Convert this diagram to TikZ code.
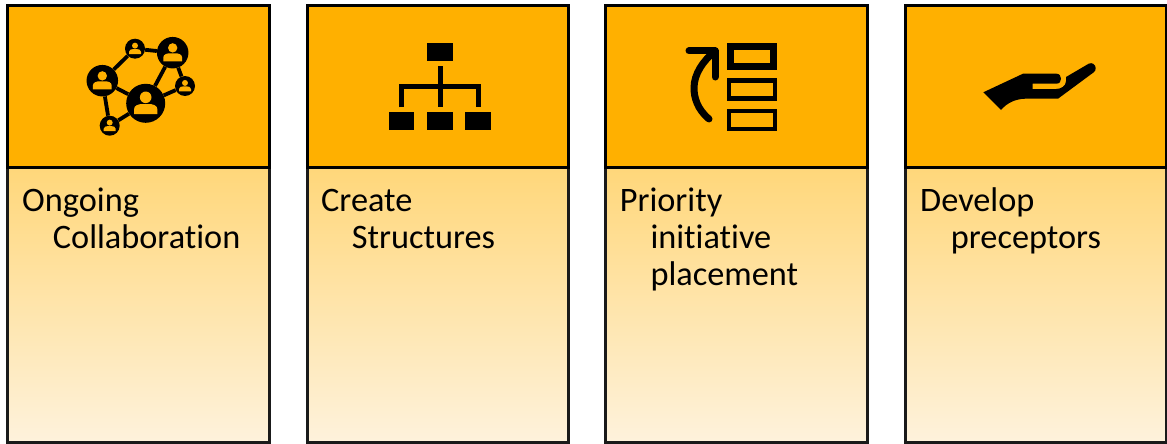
\documentclass[tikz,border=0pt]{standalone}
\usepackage{fontspec}
\setmainfont[Ligatures=NoCommon]{Carlito}
\definecolor{hdr}{HTML}{FFB000}
\definecolor{gradtop}{HTML}{FFD77A}
\definecolor{gradbot}{HTML}{FEF2DC}
\definecolor{bodyline}{HTML}{1A1A1A}
\tikzset{
  headbox/.style={draw=black,line width=3pt,fill=hdr},
  bodybox/.style={draw=bodyline,line width=3pt,top color=gradtop,bottom color=gradbot},
  label text/.style={anchor=north west,inner sep=0pt,align=left,text=black,font=\fontsize{34.3}{37.2}\selectfont},
  hub/.style={circle,fill=black,inner sep=0pt,minimum size=#1},
  link/.style={draw=black,line width=3.8pt},
  orgbox/.style={fill=black},
  orgline/.style={draw=black,line width=5pt},
  outline rect/.style={draw=black,fill=none}
}
\newcommand{\personicon}[3]{%
  \begin{scope}[shift={(#1,#2)},x=#3 pt/19.5,y=-#3 pt/19.5]
    \fill[hdr] (0,-6) circle[radius=5.8*#3 pt/19.5];
    \fill[hdr] (-11.7,10.7) -- (-11.7,6) .. controls (-11.7,2) and (-7,0.7) .. (-3,0.7) -- (3,0.7) .. controls (7,0.7) and (11.7,2) .. (11.7,6) -- (11.7,10.7) -- cycle;
  \end{scope}}
\newcommand{\firstline}{\rule{0pt}{28pt}}
\begin{document}
\begin{tikzpicture}[x=1pt,y=-1pt]
\useasboundingbox (0,0) rectangle (1167,444);
% columns
\foreach \l/\r/\n in {7/269.7/a,307/568.7/b,605/867.5/c,905/1166/d}{
  \path[bodybox] (\l,167.5) rectangle (\r,442.5);
  \path[headbox] (\l,5.5) rectangle (\r,167.5);
}
% labels
\node[label text] (la) at (22,183) {\firstline Ongoing\\\hspace*{30.7pt}Collaboration};
\node[label text] (lb) at (321,183) {\firstline Create\\\hspace*{30.7pt}Structures};
\node[label text] (lc) at (619.6,183) {\firstline Priority\\\hspace*{30.7pt}initiative\\\hspace*{30.7pt}placement};
\node[label text] (ld) at (920,183) {\firstline Develop\\\hspace*{30.7pt}preceptors};
% network icon
\node[hub=39pt] (n1) at (145.7,103.3) {};
\node[hub=31.5pt] (n2) at (172.7,52.7) {};
\node[hub=31.5pt] (n3) at (102.3,80.7) {};
\node[hub=20pt] (n4) at (135,48.7) {};
\node[hub=20pt] (n5) at (185,86) {};
\node[hub=20pt] (n6) at (109.7,125.7) {};
\draw[link] (n3) -- (n4);
\draw[link] (n4) -- (n2);
\draw[link] (n3) -- (n1);
\draw[link] (n3) -- (n6);
\draw[link] (n6) -- (n1);
\draw[link] (n1) -- (n2);
\draw[link] (n2) -- (n5);
\draw[link] (n1) -- (n5);
\personicon{145.7}{103.3}{19.5}
\personicon{172.7}{52.7}{15.7}
\personicon{102.3}{80.7}{15.7}
\personicon{135}{48.7}{10}
\personicon{185}{86}{10}
\personicon{109.7}{125.7}{10}
% org chart icon
\node[orgbox,inner sep=0pt,minimum width=25.4pt,minimum height=18pt] (o0) at (440,52.3) {};
\node[orgbox,inner sep=0pt,minimum width=25.6pt,minimum height=18pt] (o1) at (401.5,121.3) {};
\node[orgbox,inner sep=0pt,minimum width=25.4pt,minimum height=18pt] (o2) at (440,121.3) {};
\node[orgbox,inner sep=0pt,minimum width=25.6pt,minimum height=18pt] (o3) at (478.2,121.3) {};
\coordinate (oa) at (440,66.3);
\coordinate (ob) at (440,107.3);
\coordinate (oc) at (401.7,107.3);
\coordinate (od) at (478.3,107.3);
\draw[orgline] (oa) -- (ob);
\draw[orgline] (oc) -- (oc |- 0,86.7) -- (od |- 0,86.7) -- (od);
% priority icon
\draw[outline rect,line width=7pt] (730.2,46.2) rectangle (773.8,66.5);
\draw[outline rect,line width=4.5pt] (729,80.6) rectangle (775,98.4);
\draw[outline rect,line width=4.5pt] (729,111) rectangle (775,129);
\draw[line width=7pt,line cap=round,line join=round] (689,51) -- (715,51) -- (715,77);
\draw[line width=7pt,line cap=round] (709,119) .. controls (697,109) and (694,97) .. (694,88) .. controls (694,74) and (703,61) .. (715,51);
% hand icon
\fill[black] (983.3,92.3) -- (1023,73.7) -- (1056.3,73.7) .. controls (1059.5,73.7) and (1061,76) .. (1061,78.7)
  .. controls (1061,81.5) and (1059.5,83.7) .. (1056.3,83.7) -- (1032.7,83.7) -- (1032.7,89) -- (1056,89)
  .. controls (1061,89) and (1066,86) .. (1066,81) -- (1066,77) -- (1088.7,63.7)
  .. controls (1092,62) and (1095.7,64.5) .. (1095.7,68.3) .. controls (1095.7,70) and (1095,71.3) .. (1093.7,72.3)
  -- (1058,98.7) -- (1025.3,98.7) .. controls (1015,99) and (1007,103) .. (1001,110) -- cycle;
\end{tikzpicture}
\end{document}
